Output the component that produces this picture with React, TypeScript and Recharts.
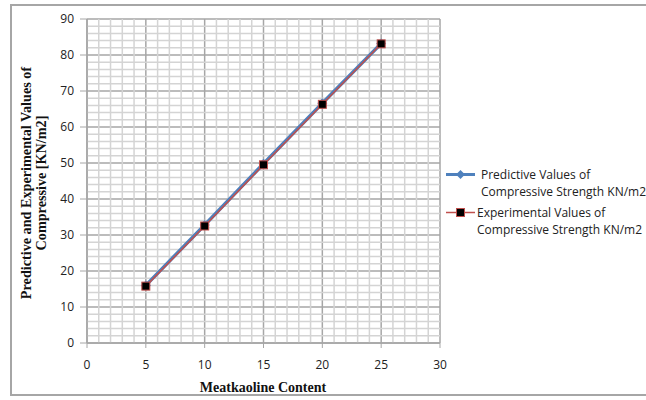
import React from 'react';
import {
  LineChart, Line, XAxis, YAxis, CartesianGrid, ReferenceLine,
} from 'recharts';

const contentLevels = [5, 10, 15, 20, 25];
const predictedStrength = [16.0, 32.8, 49.8, 66.6, 83.2];
const experimentalStrength = [15.8, 32.5, 49.5, 66.3, 83.1];

const xTicks = [0, 5, 10, 15, 20, 25, 30];
const yTicks = [0, 10, 20, 30, 40, 50, 60, 70, 80, 90];
const xMinorTicks = [1, 2, 3, 4, 6, 7, 8, 9, 11, 12, 13, 14, 16, 17, 18, 19, 21, 22, 23, 24, 26, 27, 28, 29];
const yMinorTicks = [2, 4, 6, 8, 12, 14, 16, 18, 22, 24, 26, 28, 32, 34, 36, 38, 42, 44, 46, 48, 52, 54, 56, 58, 62, 64, 66, 68, 72, 74, 76, 78, 82, 84, 86, 88];

const seriesNames = [
  ['Predictive Values of', 'Compressive Strength KN/m2'],
  ['Experimental Values of', 'Compressive Strength KN/m2'],
];
const yTitle = ['Predictive and Experimental Values of', 'Compressive [KN/m2]'];
const xTitle = 'Meatkaoline Content';

const rows = contentLevels.map((x, i) => ({
  x,
  predicted: predictedStrength[i],
  experimental: experimentalStrength[i],
}));

const TICK_FONT = '"Open Sans", sans-serif';
const TITLE_FONT = '"Liberation Serif", "Times New Roman", serif';
const BLUE = '#4f81bd';
const RED = '#c0504d';
const MINOR = '#d4d4d4';
const MAJOR = '#a6a6a6';

const SquareDot = (props: any) => {
  const { cx, cy } = props;
  if (cx == null || cy == null) return null;
  return <rect x={cx - 4} y={cy - 4} width={8} height={8} fill="#000" stroke={RED} strokeWidth={1} />;
};

const DiamondDot = (props: any) => {
  const { cx, cy } = props;
  if (cx == null || cy == null) return null;
  return <path d={`M${cx},${cy - 5}L${cx + 5},${cy}L${cx},${cy + 5}L${cx - 5},${cy}Z`} fill={BLUE} />;
};

const LegendBox = () => (
  <div
    style={{
      position: 'absolute', left: 445, top: 166, whiteSpace: 'nowrap',
      fontFamily: TICK_FONT, fontSize: 12, color: '#222', lineHeight: '17px',
    }}
  >
    {seriesNames.map((name, i) => (
      <div key={i} style={{ display: 'flex', alignItems: 'flex-start', marginBottom: 4 }}>
        <svg width={32} height={17} style={{ flex: 'none' }}>
          {i === 0 ? (
            <>
              <line x1={1} y1={8.5} x2={30} y2={8.5} stroke={BLUE} strokeWidth={3} />
              <path d="M15.5,4L20,8.5L15.5,13L11,8.5Z" fill={BLUE} />
            </>
          ) : (
            <>
              <line x1={1} y1={8.5} x2={30} y2={8.5} stroke={RED} strokeWidth={1.5} />
              <rect x={11.5} y={4.5} width={8} height={8} fill="#000" stroke={RED} strokeWidth={1} />
            </>
          )}
        </svg>
        <div style={{ marginLeft: i === 0 ? 4 : 0 }}>
          <div>{name[0]}</div>
          <div>{name[1]}</div>
        </div>
      </div>
    ))}
  </div>
);

export default function App() {
  return (
    <div style={{ position: 'absolute', left: 0, top: 0, width: 646, height: 400, background: '#fff', overflow: 'hidden' }}>
      <div
        style={{
          position: 'absolute', left: 10, top: 4, width: 660, height: 392,
          border: '2px solid #a6a6a6', boxSizing: 'border-box',
        }}
      />
      <LineChart
        width={646}
        height={400}
        data={rows}
        margin={{ top: 19, right: 206, bottom: 0, left: 47 }}
        style={{ position: 'absolute', left: 0, top: 0 }}
      >
        {xMinorTicks.map(v => (
          <ReferenceLine key={`vx${v}`} x={v} stroke={MINOR} strokeWidth={1.5} ifOverflow="visible" />
        ))}
        {yMinorTicks.map(v => (
          <ReferenceLine key={`hy${v}`} y={v} stroke={MINOR} strokeWidth={1.5} ifOverflow="visible" />
        ))}
        <CartesianGrid stroke={MAJOR} strokeWidth={1.5} />
        <XAxis
          type="number"
          dataKey="x"
          domain={[0, 30]}
          ticks={xTicks}
          interval={0}
          axisLine={{ stroke: MAJOR, strokeWidth: 1.5 }}
          tickLine={{ stroke: MAJOR }}
          tickSize={5}
          tickMargin={12}
          tick={{ fill: '#222', fontSize: 12, fontFamily: TICK_FONT }}
          height={57}
          label={{
            content: () => (
              <text x={263} y={392} textAnchor="middle" fontFamily={TITLE_FONT} fontWeight="bold" fontSize={14} fill="#111">
                {xTitle}
              </text>
            ),
          }}
        />
        <YAxis
          type="number"
          domain={[0, 90]}
          ticks={yTicks}
          interval={0}
          width={40}
          axisLine={{ stroke: MAJOR, strokeWidth: 1.5 }}
          tickLine={{ stroke: MAJOR }}
          tickSize={7}
          tickMargin={6}
          tick={{ fill: '#222', fontSize: 12, fontFamily: TICK_FONT }}
          label={{
            content: () => (
              <g transform="translate(36,183) rotate(-90)">
                <text x={0} y={-5} textAnchor="middle" fontFamily={TITLE_FONT} fontWeight="bold" fontSize={14.2} fill="#111">
                  {yTitle[0]}
                </text>
                <text x={0} y={10} textAnchor="middle" fontFamily={TITLE_FONT} fontWeight="bold" fontSize={14.2} fill="#111">
                  {yTitle[1]}
                </text>
              </g>
            ),
          }}
        />
        <Line
          type="linear"
          dataKey="predicted"
          stroke={BLUE}
          strokeWidth={3.5}
          dot={<DiamondDot />}
          activeDot={false}
          isAnimationActive={false}
        />
        <Line
          type="linear"
          dataKey="experimental"
          stroke={RED}
          strokeWidth={1.5}
          dot={<SquareDot />}
          activeDot={false}
          isAnimationActive={false}
        />
      </LineChart>
      <LegendBox />
    </div>
  );
}
